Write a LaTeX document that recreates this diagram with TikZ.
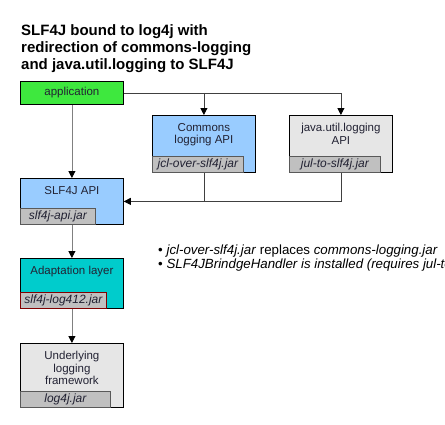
\documentclass[tikz,border=0pt]{standalone}
\usepackage{fontspec}
\setmainfont{Liberation Sans}
\usetikzlibrary{arrows.meta,positioning}

\definecolor{appgreen}{HTML}{3EE83E}
\definecolor{apiblue}{HTML}{99CCFF}
\definecolor{julgray}{HTML}{E6E6E6}
\definecolor{jargray}{HTML}{C0C0C0}
\definecolor{adaptteal}{HTML}{00CCCC}
\definecolor{adaptjar}{HTML}{800000}
\definecolor{boxtext}{HTML}{222233}
\newcommand\boxfont{\fontsize{11.5}{12.5}\selectfont}

\begin{document}
\begin{tikzpicture}
[x=1pt, y=-1pt,
box/.style={rectangle, draw=black, line width=0.8pt, anchor=north west, minimum width=103pt, inner sep=0pt, font=\boxfont, text=boxtext},
jar/.style={rectangle, draw=black!65, line width=0.8pt, fill=jargray, anchor=south west, minimum height=16pt, inner sep=0pt, font=\fontsize{12}{13}\selectfont\itshape, text=boxtext},
boxcap/.style={anchor=north, align=center, font=\boxfont, text=boxtext, inner sep=0pt, yshift=-8pt},
feed/.style={draw=black!75, line width=0.8pt, -{Triangle[length=7pt,width=7pt,color=black]}},
drop/.style={draw=gray, line width=0.8pt, -{Triangle[length=7pt,width=7pt,color=black]}}
]
\useasboundingbox (0,0) rectangle (445,424);
\clip (0,0) rectangle (445,424);

%Nodes
\node[anchor=north west, align=left, inner sep=0pt, font=\fontsize{15}{17}\selectfont\bfseries]
  (title) at (21,24) {SLF4J bound to log4j with\\redirection of commons-logging\\and java.util.logging to SLF4J};

\node[box, fill=appgreen, minimum height=23pt] (app)   at (20,81)  {application};
\node[box, fill=apiblue,  minimum height=57pt, label={[boxcap]north:Commons\\logging API}]       (cl)    at (152,115) {};
\node[box, fill=julgray,  minimum height=57pt, label={[boxcap]north:java.util.logging\\API}]     (jul)   at (289,115) {};
\node[box, fill=apiblue,  minimum height=46pt, label={[boxcap]north:SLF4J API}]                  (api)   at (20,178)  {};
\node[box, fill=adaptteal,minimum height=50pt, label={[boxcap]north:Adaptation layer}]           (adapt) at (20,258)  {};
\node[box, fill=julgray,  minimum height=64pt, label={[boxcap]north:Underlying\\logging\\framework}] (under) at (20,343) {};

\node[jar, minimum width=91pt] (cljar)    at (cl.south west)    {jcl-over-slf4j.jar};
\node[jar, minimum width=91pt] (juljar)   at (jul.south west)   {jul-to-slf4j.jar};
\node[jar, minimum width=75pt] (apijar)   at (api.south west)   {slf4j-api.jar};
\node[jar, minimum width=86pt, draw=adaptjar] (adaptjar) at (adapt.south west) {slf4j-log412.jar};
\node[jar, minimum width=90pt] (underjar) at (under.south west) {log4j.jar};

\node[anchor=north west, align=left, inner sep=0pt, font=\fontsize{13.3}{12}\selectfont, text=black]
  (notes) at (158,245) {\textbullet\ \textit{jcl-over-slf4j.jar} replaces \textit{commons-logging.jar}\\\textbullet\ \textit{SLF4JBrindgeHandler is installed (requires jul-to-slf4j.jar)}};

%Lines
\coordinate (tee)  at (cl.north |- app.east);
\coordinate (join) at (cl.south |- api.east);
\draw[feed] (app.east) -| (jul.north);
\draw[feed] (tee) -- (cl.north);
\draw[feed] (cl.south) |- (api.east);
\draw[draw=black!75, line width=0.8pt] (jul.south) |- (join);
\draw[drop] (app.south) -- (api.north);
\draw[drop] (api.south) -- (adapt.north);
\draw[drop] (adapt.south) -- (under.north);
\end{tikzpicture}
\end{document}
